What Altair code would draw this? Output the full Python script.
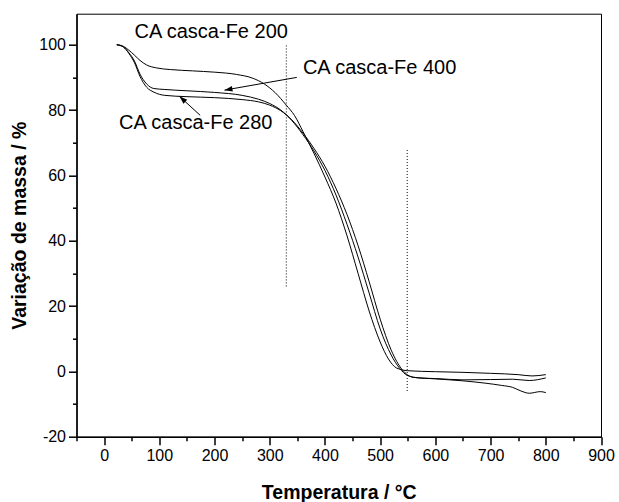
import math
import altair as alt
import pandas as pd

# ---- data ----
x_200 = [23, 35, 45, 55, 65, 77, 95, 120, 160, 200, 240, 270, 290, 310, 330, 345, 360, 380, 400,
         420, 440, 460, 480, 500, 515, 530, 550, 600, 650, 700, 750, 775, 800]
y_200 = [100, 99.5, 98.3, 96.8, 95.2, 93.8, 92.9, 92.4, 92.0, 91.6, 90.9, 89.7, 88.0, 85.3, 81.5,
         78.3, 73.5, 66.8, 59.5, 51.5, 41.5, 30.0, 18.5, 9.0, 3.8, 1.0, 0.2, -0.1, -0.3, -0.6,
         -1.0, -1.4, -1.0]

x_400 = [23, 35, 45, 55, 65, 77, 90, 110, 150, 200, 250, 280, 300, 320, 340, 360, 380, 400, 420,
         440, 460, 480, 500, 520, 535, 550, 570, 600, 650, 700, 740, 770, 800]
y_400 = [100, 99.3, 97.5, 95.0, 91.0, 88.0, 86.6, 86.3, 85.9, 85.4, 84.5, 83.3, 82.0, 80.0, 76.8,
         72.5, 67.5, 61.5, 54.0, 45.0, 35.0, 24.0, 13.0, 5.0, 1.0, -1.3, -2.0, -2.2, -2.6, -2.5,
         -2.4, -2.8, -2.0]

x_280 = [23, 35, 45, 55, 65, 77, 90, 110, 150, 200, 250, 280, 300, 320, 340, 360, 380, 400, 420,
         440, 460, 480, 500, 520, 540, 560, 600, 650, 690, 720, 740, 755, 770, 790, 800]
y_280 = [100, 99.3, 97.3, 94.5, 90.3, 87.0, 85.5, 84.5, 84.1, 83.8, 83.2, 82.5, 81.5, 79.8, 77.0,
         73.0, 68.3, 62.8, 56.0, 48.0, 38.5, 27.5, 16.0, 6.5, 0.5, -1.8, -2.3, -2.9, -3.6, -4.3,
         -4.9, -6.0, -6.7, -6.2, -6.5]

series_names = ["CA casca-Fe 200", "CA casca-Fe 400", "CA casca-Fe 280"]

vline_x = [330, 549]
vline_y1 = [26, -6]
vline_y2 = [100, 68]

ann_text = ["CA casca-Fe 200", "CA casca-Fe 400", "CA casca-Fe 280"]
ann_x = [194, 499, 166]
ann_y = [104, 93, 76]

arrow_x1 = [349, 174]
arrow_y1 = [90, 78.4]
arrow_x2 = [218, 136.4]
arrow_y2 = [86.1, 84.2]

x_major = list(range(0, 901, 100))
x_minor = list(range(-50, 851, 100))
y_major = list(range(-20, 101, 20))
y_minor = list(range(-10, 91, 20))

# ---- layout ----
X_DOMAIN = [-50, 900]
Y_DOMAIN = [-20, 109.5]
W, H = 524.5, 423
PAD = {"left": 76.5, "top": 13.7, "right": 18, "bottom": 65.3}
FONT = "Liberation Sans"
TITLE_SIZE = 19.5

rows = []
for name, xs, ys in zip(series_names, [x_200, x_400, x_280], [y_200, y_400, y_280]):
    for i, (a, b) in enumerate(zip(xs, ys)):
        rows.append({"series": name, "t": a, "m": b, "i": i})
df_lines = pd.DataFrame(rows)

df_v = pd.DataFrame({"x": vline_x, "y1": vline_y1, "y2": vline_y2})
df_ann = pd.DataFrame({"label": ann_text, "x": ann_x, "y": ann_y})

sx = W / (X_DOMAIN[1] - X_DOMAIN[0])
sy = H / (Y_DOMAIN[1] - Y_DOMAIN[0])
angles = []
for a1, b1, a2, b2 in zip(arrow_x1, arrow_y1, arrow_x2, arrow_y2):
    dxp = (a2 - a1) * sx
    dyp = -(b2 - b1) * sy
    angles.append(math.degrees(math.atan2(dxp, -dyp)) % 360)
df_arr = pd.DataFrame({"x1": arrow_x1, "y1": arrow_y1, "x2": arrow_x2, "y2": arrow_y2, "ang": angles})

xscale = alt.Scale(domain=X_DOMAIN, nice=False, zero=False)
yscale = alt.Scale(domain=Y_DOMAIN, nice=False, zero=False)

xaxis = alt.Axis(
    values=x_major, tickSize=8, labelExpr="'' + datum.value",
    labelPadding=3, labelFlush=False, labelOverlap=False, orient="bottom",
    title="Temperatura / °C", titleFontSize=TITLE_SIZE, titleFontWeight="bold",
    titleX=W / 2, titleY=56, titleBaseline="middle", titleAlign="center",
    grid=False,
)
yaxis = alt.Axis(
    values=y_major, tickSize=8, labelExpr="'' + datum.value",
    labelPadding=3, labelFlush=False, labelOverlap=False, orient="left",
    title="Variação de massa / %", titleFontSize=TITLE_SIZE, titleFontWeight="bold",
    titleX=-57, titleY=H / 2, titleBaseline="middle", titleAlign="center",
    grid=False,
)
xaxis_minor = alt.Axis(values=x_minor, tickSize=4, labels=False, domain=False, title=None,
                       grid=False, orient="bottom")
yaxis_minor = alt.Axis(values=y_minor, tickSize=4, labels=False, domain=False, title=None,
                       grid=False, orient="left")

lines = alt.Chart(df_lines).mark_line(strokeWidth=1, color="black", interpolate="monotone").encode(
    x=alt.X("t:Q", scale=xscale, axis=xaxis),
    y=alt.Y("m:Q", scale=yscale, axis=yaxis),
    detail="series:N",
    order="i:Q",
)

vlines = alt.Chart(df_v).mark_rule(color="black", strokeWidth=1, strokeDash=[1, 2]).encode(
    x=alt.X("x:Q", scale=xscale, axis=xaxis_minor),
    y=alt.Y("y1:Q", scale=yscale, axis=yaxis_minor),
    y2="y2:Q",
)

labels = alt.Chart(df_ann).mark_text(font=FONT, fontSize=20, color="black", align="center",
                                     baseline="middle").encode(
    x=alt.X("x:Q", axis=None), y=alt.Y("y:Q", axis=None), text="label:N"
)

arrow_lines = alt.Chart(df_arr).mark_rule(color="black", strokeWidth=1).encode(
    x=alt.X("x1:Q", axis=None), y=alt.Y("y1:Q", axis=None), x2="x2:Q", y2="y2:Q"
)
arrow_heads = alt.Chart(df_arr).mark_point(
    shape="M0,0 L-0.35,1 L0.35,1 Z", filled=True, color="black", size=256, opacity=1, strokeWidth=0
).encode(
    x=alt.X("x2:Q", axis=None), y=alt.Y("y2:Q", axis=None), angle=alt.Angle("ang:Q", scale=None)
)

chart = alt.layer(lines, vlines, arrow_lines, arrow_heads, labels).resolve_axis(
    x="independent", y="independent"
).properties(
    width=W, height=H, padding=PAD, autosize="none", background="white"
).configure_view(
    stroke="black", strokeWidth=1
).configure_axis(
    domainColor="black", domainWidth=1.5, tickColor="black", tickWidth=1.5,
    labelColor="black", labelFont=FONT, labelFontSize=16, titleFont=FONT, titleColor="black",
)

chart.save("out.html", embed_options={"renderer": "svg", "actions": False})
